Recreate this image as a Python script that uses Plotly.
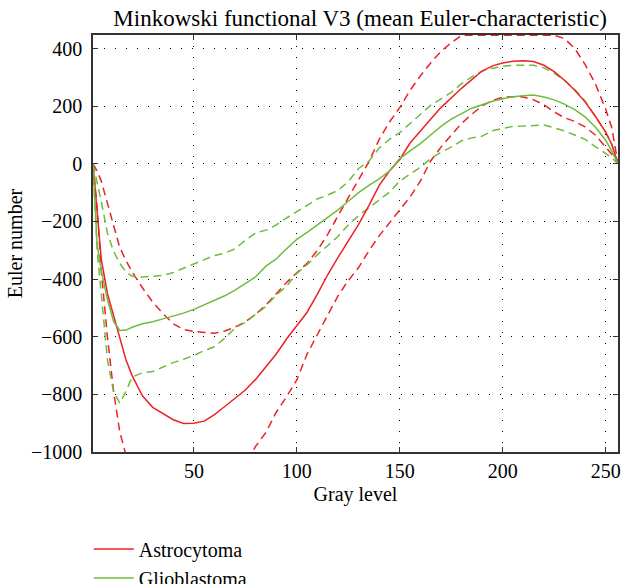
import plotly.graph_objects as go

gray = [1, 3, 5, 8, 11, 14, 17, 20, 25, 30, 35, 40, 45, 50, 55, 60, 65, 70, 75, 80,
        85, 90, 95, 100, 105, 110, 115, 120, 125, 130, 135, 140, 145, 150, 155, 160,
        165, 170, 175, 180, 185, 190, 195, 200, 205, 210, 215, 220, 225, 230, 235,
        240, 245, 250, 253, 256]

astro_mean = [0, -180, -330, -450, -524, -600, -680, -735, -805, -845, -868, -888, -901,
              -900, -893, -870, -842, -815, -785, -748, -705, -660, -608, -562, -515,
              -452, -385, -325, -268, -210, -145, -75, -25, 15, 72, 115, 155, 195, 230,
              262, 292, 322, 340, 350, 356, 358, 355, 342, 320, 290, 255, 215, 165, 110,
              67, 0]

astro_upper = [0, -25, -60, -135, -211, -290, -335, -375, -430, -480, -520, -555, -575,
               -582, -585, -588, -580, -567, -548, -522, -490, -452, -412, -378, -345,
               -300, -245, -180, -118, -55, 7, 85, 145, 195, 255, 305, 350, 390, 420,
               446, 446, 446, 446, 446, 446, 446, 446, 446, 446, 435, 400, 345, 278, 190,
               125, 0]

astro_lower = [0, -150, -370, -600, -790, -930, -1010, -1090, -1170, -1220, -1250, -1265,
               -1270, -1265, -1250, -1220, -1175, -1110, -1050, -980, -932, -862, -808,
               -750, -660, -595, -525, -458, -405, -360, -302, -250, -205, -160, -115,
               -60, 10, 58, 98, 140, 172, 201, 220, 231, 233, 232, 222, 205, 180, 160,
               147, 128, 100, 60, 33, 0]

glio_mean = [0, -280, -370, -470, -547, -578, -577, -567, -555, -548, -538, -528, -518,
             -505, -490, -475, -458, -438, -416, -392, -355, -330, -295, -262, -238, -212,
             -185, -160, -130, -100, -75, -52, -25, 18, 45, 70, 100, 130, 155, 175, 193,
             205, 217, 226, 233, 236, 239, 232, 222, 207, 188, 163, 128, 82, 44, 0]

glio_upper = [0, -60, -130, -240, -304, -345, -375, -390, -393, -390, -387, -377, -362,
              -348, -333, -318, -310, -295, -265, -240, -230, -212, -188, -165, -143,
              -122, -108, -92, -62, -16, 9, 55, 85, 108, 140, 170, 203, 225, 248, 278, 302,
              322, 332, 338, 342, 342, 342, 333, 315, 290, 258, 218, 165, 110, 67, 0]

glio_lower = [0, -300, -450, -680, -790, -830, -790, -740, -725, -721, -705, -690, -678,
              -665, -648, -635, -605, -570, -550, -522, -495, -455, -425, -380, -350,
              -315, -285, -252, -212, -180, -153, -125, -98, -60, -35, -12, 18, 40, 58,
              80, 90, 96, 115, 122, 130, 131, 132, 135, 125, 114, 100, 85, 60, 35, 21, 0]

RED = "rgb(237,34,38)"
GREEN = "rgb(110,188,62)"
FONT = "Liberation Serif"
DASH = "8px,5px"

fig = go.Figure()
series = [
    (astro_upper, RED, DASH, False, "Astrocytoma"),
    (astro_lower, RED, DASH, False, "Astrocytoma"),
    (glio_upper, GREEN, DASH, False, "Glioblastoma"),
    (glio_lower, GREEN, DASH, False, "Glioblastoma"),
    (astro_mean, RED, "solid", True, "Astrocytoma"),
    (glio_mean, GREEN, "solid", True, "Glioblastoma"),
]
for ys, col, dash, show, name in series:
    fig.add_trace(go.Scatter(x=gray, y=ys, mode="lines", name=name, showlegend=show,
                             line=dict(color=col, width=1.5, dash=dash)))

axis_common = dict(showline=True, linecolor="#333333", linewidth=1.5, mirror="ticks",
                   ticks="inside", ticklen=5, tickcolor="#333333", showgrid=True,
                   gridcolor="black", gridwidth=1, griddash="1px,10px", zeroline=False,
                   automargin=False,
                   tickfont=dict(family=FONT, size=20, color="black"))

fig.update_xaxes(range=[1, 256], tickvals=[50, 100, 150, 200, 250],
                 title=dict(text="Gray level", font=dict(family=FONT, size=20, color="black"),
                            standoff=6), **axis_common)
fig.update_yaxes(range=[-1000, 447], tickvals=[-1000, -800, -600, -400, -200, 0, 200, 400],
                 ticklabelstandoff=5,
                 title=dict(text="Euler number", font=dict(family=FONT, size=20, color="black"),
                            standoff=3), **axis_common)

fig.update_layout(
    width=623, height=603,
    margin=dict(l=93, r=5, t=35, b=147),
    paper_bgcolor="white", plot_bgcolor="white",
    title=dict(text="Minkowski functional V3 (mean Euler-characteristic)",
               font=dict(family=FONT, size=23, color="black"),
               x=0.578, xanchor="center", y=0.971, yanchor="middle"),
    legend=dict(x=-0.008, y=-0.186, xanchor="left", yanchor="top", itemwidth=40,
                font=dict(family=FONT, size=20, color="black"),
                bgcolor="rgba(0,0,0,0)", tracegroupgap=0),
    showlegend=True,
)

fig.write_html("out.html", config={"displayModeBar": False},
               post_script="document.body.style.margin='0';document.body.style.overflow='hidden';")
